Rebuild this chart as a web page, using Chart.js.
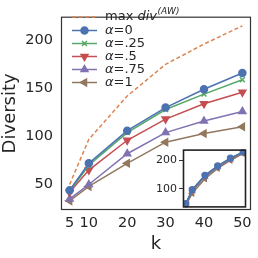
<!DOCTYPE html>
<html lang="en">
<head>
    <meta charset="UTF-8">
    <title>Diversity vs k</title>
    <script src="https://cdn.jsdelivr.net/npm/chart.js"></script>
    <style>
        html, body { margin: 0; padding: 0; background: #fff; }
        #wrap { position: relative; width: 258px; height: 258px; }
        #mainChart { position: absolute; left: 0; top: 0; }
        #insetChart { position: absolute; left: 140px; top: 141px; }
    </style>
</head>
<body>
<div id="wrap">
    <canvas id="mainChart" width="258" height="258"></canvas>
    <canvas id="insetChart" width="112" height="75"></canvas>
</div>
<script>
    // data
    const kValues = [5, 10, 20, 30, 40, 50];
    const xTicks = [5, 10, 20, 30, 40, 50];
    const yTicks = [50, 100, 150, 200];
    const insetYTicks = [100, 200];

    const maxDivAW = [50, 97, 142, 175, 196, 215];
    const divA0 = [44, 72, 106, 130, 149, 166];
    const divA25 = [43, 70, 104, 128, 144, 159];
    const divA5 = [42, 65, 96, 118, 134, 146];
    const divA75 = [35, 50, 82, 104, 116, 126];
    const divA1 = [33, 48, 72, 94, 103, 110];

    // inset series (all alpha curves almost on top of each other)
    const insetA0 = [48, 97, 147, 180, 207, 229];
    const insetA25 = [48, 96, 146, 179, 206, 228];
    const insetA5 = [47, 95, 145, 178, 205, 227];
    const insetA75 = [46, 92, 142, 176, 203, 226];
    const insetA1 = [43, 84, 135, 171, 199, 224];

    const FONT = "'DejaVu Sans', sans-serif";
    const TXT = "#262626";

    const series = [
        { name: "max", data: maxDivAW, color: "#DD8452", style: false, rot: 0, dash: [4, 2.5] },
        { name: "0", data: divA0, color: "#4C72B0", style: "circle", rot: 0, r: 3.5 },
        { name: ".25", data: divA25, color: "#55A868", style: "crossRot", rot: 0, r: 3.5 },
        { name: ".5", data: divA5, color: "#C44E52", style: "triangle", rot: 180, r: 4 },
        { name: ".75", data: divA75, color: "#8172B2", style: "triangle", rot: 0, r: 4 },
        { name: "1", data: divA1, color: "#937860", style: "triangle", rot: -90, r: 4 }
    ];
    const insetData = [insetA0, insetA25, insetA5, insetA75, insetA1];

    function toPoints(arr) {
        return kValues.map((k, i) => ({ x: k, y: arr[i] }));
    }

    // box round the plot area, like matplotlib spines
    const frame = {
        id: "frame",
        beforeDatasetsDraw(chart, args, opts) {
            const a = chart.chartArea;
            const ctx = chart.ctx;
            if (opts.fill) {
                ctx.save();
                ctx.fillStyle = opts.fill;
                ctx.fillRect(a.left, a.top, a.right - a.left, a.bottom - a.top);
                ctx.restore();
            }
        },
        afterDraw(chart, args, opts) {
            const a = chart.chartArea;
            const ctx = chart.ctx;
            ctx.save();
            ctx.strokeStyle = opts.color || "#333";
            ctx.lineWidth = opts.width || 1;
            ctx.strokeRect(a.left + 0.5, a.top + 0.5, a.right - a.left - 1, a.bottom - a.top - 1);
            ctx.restore();
        }
    };

    // legend drawn inside the axes, top-left
    const legendInside = {
        id: "legendInside",
        afterDraw(chart) {
            const ctx = chart.ctx;
            const x1 = 72, x2 = 97, tx = 105;
            const rows = [17, 30.5, 43.5, 56.5, 69.5, 82.5];
            ctx.save();
            series.forEach((s, i) => {
                const y = rows[i];
                ctx.strokeStyle = s.color;
                ctx.lineWidth = 1.5;
                ctx.setLineDash(s.dash || []);
                ctx.beginPath();
                ctx.moveTo(x1, y);
                ctx.lineTo(x2, y);
                ctx.stroke();
                ctx.setLineDash([]);
                if (s.style) {
                    ctx.fillStyle = s.color;
                    Chart.helpers.drawPoint(ctx, {
                        pointStyle: s.style, rotation: s.rot, radius: s.r, borderWidth: 1.5
                    }, (x1 + x2) / 2, y);
                }
                ctx.fillStyle = TXT;
                ctx.textBaseline = "middle";
                let x = tx;
                if (i === 0) {
                    ctx.font = "13px " + FONT;
                    ctx.fillText("max ", x, y);
                    x += ctx.measureText("max ").width;
                    ctx.font = "italic 13px " + FONT;
                    ctx.fillText("div", x, y);
                    x += ctx.measureText("div").width;
                    ctx.font = "italic 9px " + FONT;
                    ctx.fillText("(AW)", x + 0.5, y - 5);
                } else {
                    ctx.font = "italic 13px " + FONT;
                    ctx.fillText("\u03b1", x, y);
                    x += ctx.measureText("\u03b1").width;
                    ctx.font = "13px " + FONT;
                    ctx.fillText("=" + s.name, x, y);
                }
            });
            ctx.restore();
        }
    };

    const mainDatasets = series.map(s => ({
        label: s.name,
        data: toPoints(s.data),
        showLine: true,
        borderColor: s.color,
        backgroundColor: s.color,
        borderWidth: 1.5,
        borderDash: s.dash || [],
        pointStyle: s.style || "circle",
        pointRotation: s.rot,
        pointRadius: s.style ? s.r : 0,
        pointBorderWidth: 1.5,
        tension: 0
    }));

    new Chart(document.getElementById("mainChart"), {
        type: "scatter",
        data: { datasets: mainDatasets },
        options: {
            responsive: false,
            animation: false,
            layout: { padding: { left: 0, top: 6, right: 7, bottom: 0 } },
            plugins: {
                legend: { display: false },
                tooltip: { enabled: false },
                frame: { color: "#333", width: 1.2 }
            },
            scales: {
                x: {
                    type: "linear",
                    min: 2.75,
                    max: 52.25,
                    afterBuildTicks: s => { s.ticks = xTicks.map(v => ({ value: v })); },
                    afterFit: s => { s.height = 48; },
                    grid: { display: false, drawTicks: false },
                    border: { display: false },
                    ticks: { font: { family: FONT, size: 14.5 }, color: TXT, padding: 5, maxRotation: 0, autoSkip: false },
                    title: { display: true, text: "k", font: { family: FONT, size: 18 }, color: TXT, padding: { top: 0, bottom: 3 } }
                },
                y: {
                    type: "linear",
                    min: 23.5,
                    max: 224.5,
                    afterBuildTicks: s => { s.ticks = yTicks.map(v => ({ value: v })); },
                    afterFit: s => { s.width = 61; },
                    grid: { display: false, drawTicks: false },
                    border: { display: false },
                    ticks: { font: { family: FONT, size: 14.5 }, color: TXT, padding: 8 },
                    title: { display: true, text: "Diversity", font: { family: FONT, size: 18 }, color: TXT, padding: { top: 0, bottom: 0 } }
                }
            }
        },
        plugins: [frame, legendInside]
    });

    const insetDatasets = insetData.map((arr, i) => {
        const s = series[i + 1];
        return {
            data: toPoints(arr),
            showLine: true,
            borderColor: s.color,
            backgroundColor: s.color,
            borderWidth: 1.5,
            pointStyle: s.style,
            pointRotation: s.rot,
            pointRadius: 3,
            pointBorderWidth: 1.2,
            tension: 0
        };
    });

    new Chart(document.getElementById("insetChart"), {
        type: "scatter",
        data: { datasets: insetDatasets },
        options: {
            responsive: false,
            animation: false,
            layout: { padding: { left: 0, top: 6, right: 6, bottom: 7 } },
            plugins: {
                legend: { display: false },
                tooltip: { enabled: false },
                frame: { color: "#222", width: 1.6, fill: "#fff" }
            },
            scales: {
                x: { type: "linear", min: 2.75, max: 52.25, display: false },
                y: {
                    type: "linear",
                    min: 35,
                    max: 237,
                    afterBuildTicks: s => { s.ticks = insetYTicks.map(v => ({ value: v })); },
                    afterFit: s => { s.width = 43; },
                    grid: { drawOnChartArea: false, drawTicks: true, tickLength: 4, color: "#333", lineWidth: 1 },
                    border: { display: false },
                    ticks: { font: { family: FONT, size: 11 }, color: TXT, padding: 2 }
                }
            }
        },
        plugins: [frame]
    });
</script>
</body>
</html>
